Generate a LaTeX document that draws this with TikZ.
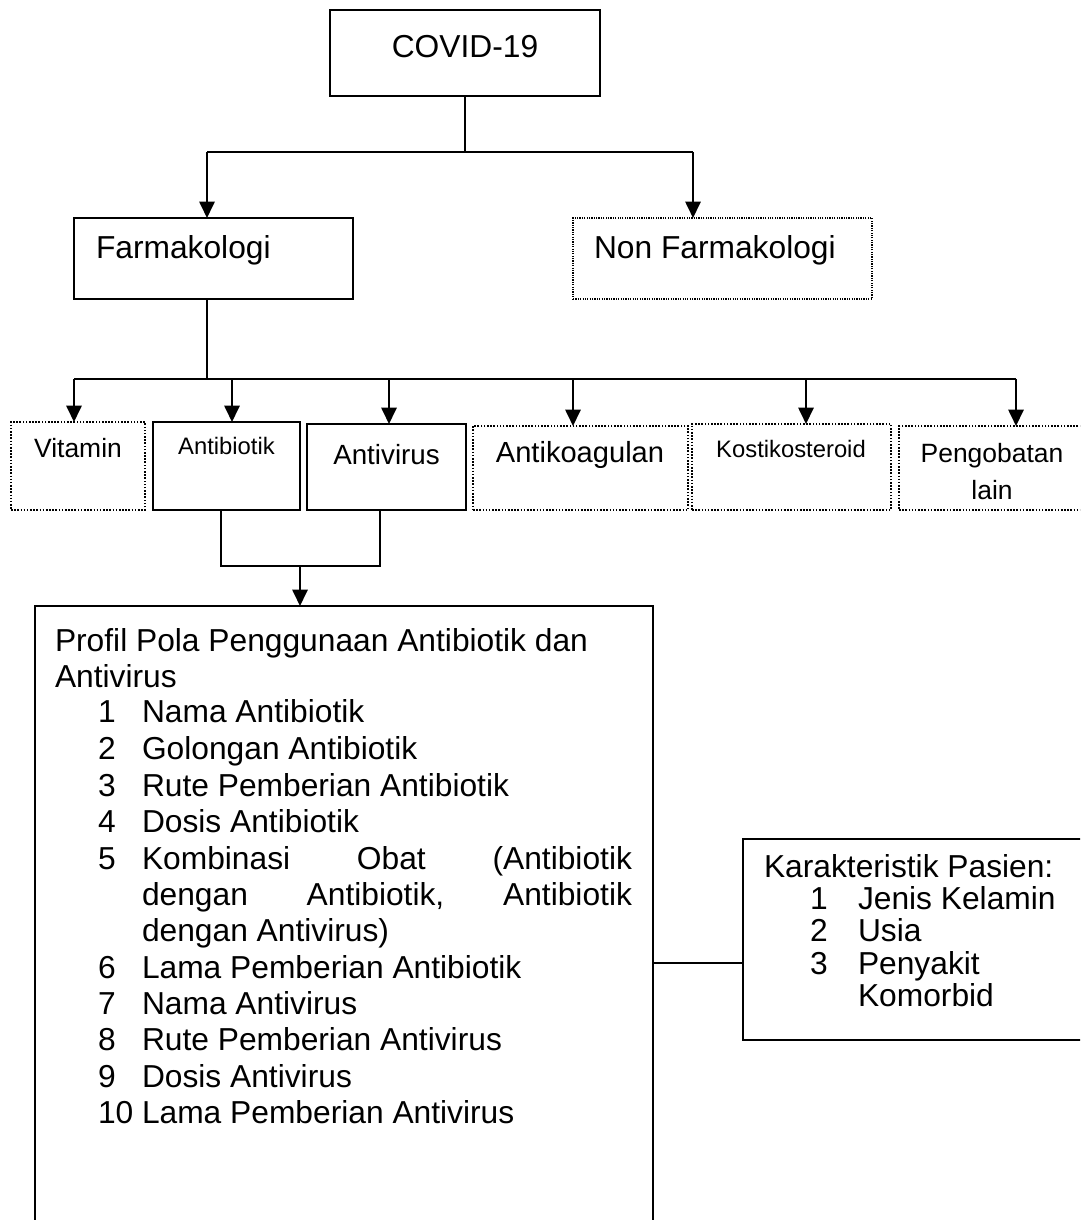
\documentclass[tikz,border=0pt]{standalone}
\usepackage{fontspec}
\setmainfont{Liberation Sans}
\usetikzlibrary{arrows.meta}
\newdimen\pxd \pxd=0.378pt
\newcommand\fsXII{\fontsize{12}{14}\selectfont}
\newcommand\fsXI{\fontsize{11}{13}\selectfont}
\newcommand\fsXh{\fontsize{10.5}{12}\selectfont}
\newcommand\fsX{\fontsize{10}{12}\selectfont}
\newcommand\fsIX{\fontsize{9}{11}\selectfont}
\tikzset{
 solidbox/.style={draw, line width=0.6pt, inner sep=0pt, outer sep=0pt},
 dotbox/.style={draw, line width=0.6pt, dash pattern=on 0.6pt off 0.6pt, inner sep=0pt, outer sep=0pt},
 finedotbox/.style={draw, line width=0.45pt, dash pattern=on 0.45pt off 0.45pt, inner sep=0pt, outer sep=0pt},
 conn/.style={line width=0.75pt},
 arr/.style={conn, -{Triangle[width=5.8pt,length=6.2pt]}},
 lbl/.style={inner sep=0pt, outer sep=0pt, anchor=base west, font=\fsXII},
 lblc/.style={inner sep=0pt, outer sep=0pt, anchor=base},
}
\newcommand\mkbox[6]{\node[#2, minimum width={(#5-#3)*\pxd}, minimum height={(#6-#4)*\pxd}, anchor=north west] (#1) at (#3,#4) {};}
\begin{document}
\begin{tikzpicture}[x=0.378pt,y=-0.378pt]
\useasboundingbox (0,0) rectangle (1080,1220);
\clip (0,0) rectangle (1080,1220);
% boxes
\mkbox{covid}{solidbox}{330}{10}{600}{96}
\mkbox{farm}{solidbox}{74}{218}{353}{299}
\mkbox{nonfarm}{finedotbox}{573}{218}{872}{299}
\mkbox{vit}{dotbox}{11}{422}{145}{510}
\mkbox{abx}{solidbox}{153}{422}{300}{510}
\mkbox{avx}{solidbox}{307}{424}{466}{510}
\mkbox{akg}{dotbox}{473}{426}{688}{510}
\mkbox{kst}{dotbox}{692}{424}{891}{510}
\mkbox{peng}{dotbox}{899}{426}{1110}{510}
\mkbox{profil}{solidbox}{35}{606}{653}{1280}
\mkbox{karak}{solidbox}{743}{839}{1110}{1040}
% box texts
\node[lblc, font=\fsXII] (tcovid) at (465,58) {COVID-19};
\node[lbl] (tfarm) at (96,259) {Farmakologi};
\node[lbl] (tnonfarm) at (594,259) {Non Farmakologi};
\node[lblc, font=\fsX] (tvit) at (78,457) {Vitamin};
\node[lblc, font=\fsIX] (tabx) at (226.5,454.5) {Antibiotik};
\node[lblc, font=\fsXh] (tavx) at (386.5,464) {Antivirus};
\node[lblc, font=\fsXI] (takg) at (580,462) {Antikoagulan};
\node[lblc, font=\fsIX] (tkst) at (791,457.5) {Kostikosteroid};
\node[lblc, font=\fsX] (tpeng1) at (992,463) {Pengobatan};
\node[lblc, font=\fsX] (tpeng2) at (992,499) {lain};
% top connectors
\coordinate (c1) at (465,152);
\coordinate (cf) at (207,152);
\coordinate (cn) at (693,152);
\draw[conn] (covid.south) -- (c1);
\draw[conn] (cf) -- (cn);
\draw[arr] (cf) -- (cf |- farm.north);
\draw[arr] (cn) -- (cn |- nonfarm.north);
% bus from Farmakologi
\coordinate (bf) at (207,379);
\coordinate (b1) at (74,379);
\coordinate (b2) at (232,379);
\coordinate (b3) at (389,379);
\coordinate (b4) at (573,379);
\coordinate (b5) at (806,379);
\coordinate (b6) at (1016,379);
\draw[conn] (farm.south -| bf) -- (bf);
\draw[conn] (b1) -- (b6);
\draw[arr] (b1) -- (b1 |- vit.north);
\draw[arr] (b2) -- (b2 |- abx.north);
\draw[arr] (b3) -- (b3 |- avx.north);
\draw[arr] (b4) -- (b4 |- akg.north);
\draw[arr] (b5) -- (b5 |- kst.north);
\draw[arr] (b6) -- (b6 |- peng.north);
% join Antibiotik + Antivirus
\coordinate (j1) at (221,566);
\coordinate (j2) at (380,566);
\coordinate (j3) at (300,566);
\draw[conn] (abx.south -| j1) -- (j1) -- (j2) -- (avx.south -| j2);
\draw[arr] (j3) -- (j3 |- profil.north);
% Profil text
\node[lbl] (ptitle1) at (55,651) {Profil Pola Penggunaan Antibiotik dan};
\node[lbl] (ptitle2) at (55,687) {Antivirus};
\node[lbl] (pn1) at (98,722) {1};  \node[lbl] (pt1) at (142,722) {Nama Antibiotik};
\node[lbl] (pn2) at (98,759) {2};  \node[lbl] (pt2) at (142,759) {Golongan Antibiotik};
\node[lbl] (pn3) at (98,796) {3};  \node[lbl] (pt3) at (142,796) {Rute Pemberian Antibiotik};
\node[lbl] (pn4) at (98,832) {4};  \node[lbl] (pt4) at (142,832) {Dosis Antibiotik};
\node[lbl] (pn5) at (98,869) {5};  \node[lbl] (pt5a) at (142,869) {\makebox[490\pxd][s]{Kombinasi\hfill Obat\hfill (Antibiotik}};
\node[lbl] (pt5b) at (142,905) {\makebox[490\pxd][s]{dengan\hfill Antibiotik,\hfill Antibiotik}};
\node[lbl] (pt5c) at (142,941) {dengan Antivirus)};
\node[lbl] (pn6) at (98,978) {6};  \node[lbl] (pt6) at (142,978) {Lama Pemberian Antibiotik};
\node[lbl] (pn7) at (98,1014) {7}; \node[lbl] (pt7) at (142,1014) {Nama Antivirus};
\node[lbl] (pn8) at (98,1050) {8}; \node[lbl] (pt8) at (142,1050) {Rute Pemberian Antivirus};
\node[lbl] (pn9) at (98,1087) {9}; \node[lbl] (pt9) at (142,1087) {Dosis Antivirus};
\node[lbl] (pn10) at (98,1123) {10}; \node[lbl] (pt10) at (142,1123) {Lama Pemberian Antivirus};
% Karakteristik text
\node[lbl] (ktitle) at (764,877) {Karakteristik Pasien:};
\node[lbl] (kn1) at (810,909) {1}; \node[lbl] (kt1) at (858,909) {Jenis Kelamin};
\node[lbl] (kn2) at (810,941) {2}; \node[lbl] (kt2) at (858,941) {Usia};
\node[lbl] (kn3) at (810,974) {3}; \node[lbl] (kt3) at (858,974) {Penyakit};
\node[lbl] (kt3b) at (858,1006) {Komorbid};
% connector Profil - Karakteristik
\coordinate (k1) at (700,963);
\draw[conn] (k1 -| profil.east) -- (k1 -| karak.west);
\end{tikzpicture}
\end{document}
